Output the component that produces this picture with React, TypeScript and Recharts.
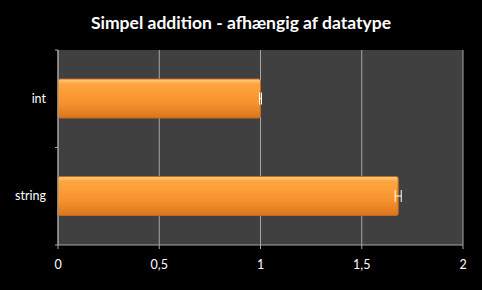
import { BarChart, Bar, XAxis, YAxis, CartesianGrid, ErrorBar } from 'recharts';

const categories = ['int', 'string'];
const values = [1.0, 1.68];
const errors = [0.005, 0.015];
const xTicks = [0, 0.5, 1, 1.5, 2];

const data = categories.map((name, i) => ({ name, value: values[i], err: errors[i] }));

const BAND = 97.5;

function CategoryTick(props: any) {
  const { x, y, payload } = props;
  return (
    <g>
      <line x1={x + 5} x2={x + 8} y1={y - BAND / 2} y2={y - BAND / 2} stroke="#a6a6a6" />
      <line x1={x + 5} x2={x + 8} y1={y + BAND / 2} y2={y + BAND / 2} stroke="#a6a6a6" />
      <text x={x - 4} y={y} dy={4} textAnchor="end" fill="#ffffff" fontSize={12.5} fontFamily="Lato, 'Open Sans', sans-serif">
        {payload.value}
      </text>
    </g>
  );
}

export default function App() {
  return (
    <div style={{ position: 'absolute', left: 0, top: 0, width: 482, height: 290, background: '#000' }}>
      <style>{`body{margin:0;background:#000}`}</style>
      <div
        style={{
          position: 'absolute',
          top: 12,
          width: 482,
          textAlign: 'center',
          color: '#fff',
          fontFamily: 'Lato, sans-serif',
          fontWeight: 700,
          fontSize: 17.5,
        }}
      >
        Simpel addition - afhængig af datatype
      </div>
      <BarChart
        width={482}
        height={290}
        data={data}
        layout="vertical"
        margin={{ top: 50, right: 19, bottom: 15, left: 0 }}
      >
        <defs>
          <linearGradient id="barGrad" x1="0" y1="0" x2="0" y2="1">
            <stop offset="0%" stopColor="#ffd08a" />
            <stop offset="12%" stopColor="#ffa640" />
            <stop offset="60%" stopColor="#f7932e" />
            <stop offset="100%" stopColor="#d9761c" />
          </linearGradient>
        </defs>
        <CartesianGrid horizontal={false} stroke="#a6a6a6" fill="#404040" />
        <XAxis
          type="number"
          domain={[0, 2]}
          ticks={xTicks}
          stroke="#a6a6a6"
          tickSize={4}
          tickMargin={11}
          height={30}
          tick={{ fill: '#ffffff', fontSize: 12.5, fontFamily: 'Lato, sans-serif' }}
          tickFormatter={(v: number) => String(v).replace('.', ',')}
        />
        <YAxis
          type="category"
          dataKey="name"
          width={58}
          stroke="#a6a6a6"
          tickLine={false}
          tick={<CategoryTick />}
        />
        <Bar
          dataKey="value"
          barSize={39}
          fill="url(#barGrad)"
          stroke="#c4691a"
          strokeWidth={1}
          radius={2}
          isAnimationActive={false}
        >
          <ErrorBar dataKey="err" direction="x" width={6} stroke="#ffffff" strokeWidth={1} />
        </Bar>
      </BarChart>
    </div>
  );
}
